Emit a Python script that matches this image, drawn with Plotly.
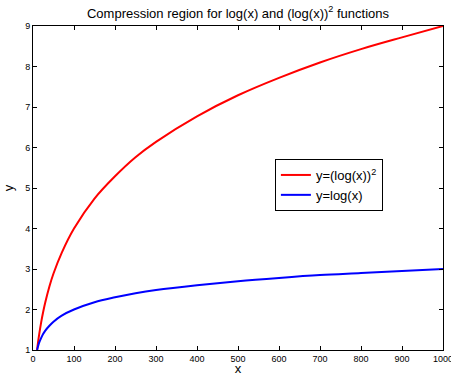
import plotly.graph_objects as go

x_vals = [10, 12, 15, 20, 25, 30, 40, 50, 70, 100, 150, 200, 250, 300, 400, 500, 600, 700, 800, 900, 1000]
y_log = [1.00, 1.08, 1.18, 1.30, 1.40, 1.48, 1.60, 1.70, 1.85, 2.00, 2.18, 2.30, 2.40, 2.48, 2.60, 2.70, 2.78, 2.85, 2.90, 2.95, 3.00]
y_logsq = [1.00, 1.17, 1.38, 1.69, 1.95, 2.18, 2.57, 2.89, 3.40, 4.00, 4.74, 5.29, 5.76, 6.14, 6.77, 7.29, 7.72, 8.10, 8.43, 8.72, 9.00]

x_ticks = [0, 100, 200, 300, 400, 500, 600, 700, 800, 900, 1000]
y_ticks = [1, 2, 3, 4, 5, 6, 7, 8, 9]

fig = go.Figure()
fig.add_trace(go.Scatter(x=x_vals, y=y_logsq, mode="lines", name="y=(log(x))<sup>2</sup>",
                         line=dict(color="#ff0000", width=2, shape="spline")))
fig.add_trace(go.Scatter(x=x_vals, y=y_log, mode="lines", name="y=log(x)",
                         line=dict(color="#0000ff", width=2, shape="spline")))

axis_common = dict(showgrid=False, zeroline=False, showline=True, linecolor="black", linewidth=1,
                   mirror="ticks", ticks="inside", ticklen=4, tickcolor="black",
                   tickfont=dict(size=9, color="black"), ticklabeloverflow="allow",
                   automargin=False)

fig.update_layout(
    width=451, height=376,
    margin=dict(l=33, r=8, t=26, b=26),
    paper_bgcolor="white", plot_bgcolor="white",
    font=dict(family="Liberation Sans, Arial, sans-serif", color="black"),
    title=dict(text="Compression region for log(x) and (log(x))<sup>2</sup> functions",
               x=238/451, xanchor="center", y=1-13/376, yanchor="middle", font=dict(size=13)),
    xaxis=dict(range=[0, 1000], tickvals=x_ticks, title=dict(text="x", font=dict(size=13), standoff=4), **axis_common),
    yaxis=dict(range=[1, 9], tickvals=y_ticks, title=dict(text="y", font=dict(size=13), standoff=8), **axis_common),
    legend=dict(x=0.590, y=0.5895, xanchor="left", yanchor="top", bordercolor="black", borderwidth=1,
                bgcolor="white", font=dict(size=13), tracegroupgap=0, itemwidth=30),
    showlegend=True,
)

fig.write_html("out.html")
